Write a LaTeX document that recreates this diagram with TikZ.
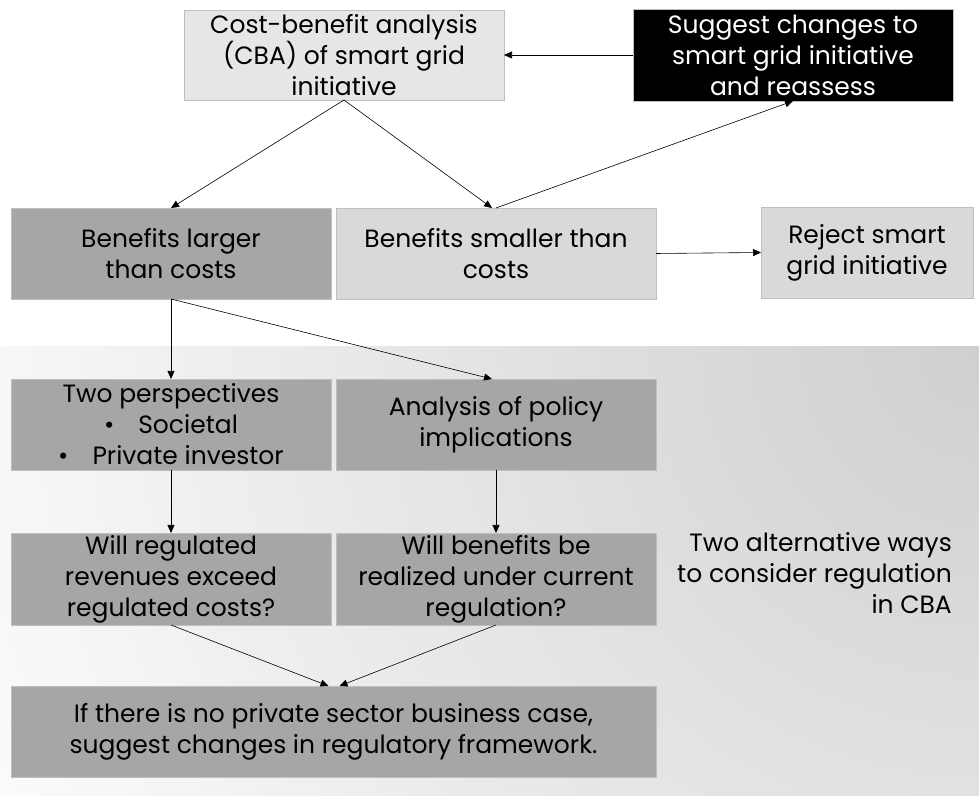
\documentclass[tikz,border=0pt]{standalone}
\usepackage{fontspec}
\setmainfont{Poppins}
\usetikzlibrary{arrows.meta}
\definecolor{cbafill}{HTML}{E6E6E6}
\definecolor{lightfill}{HTML}{D9D9D9}
\definecolor{darkfill}{HTML}{A6A6A6}
\definecolor{edgeline}{HTML}{BFBFBF}
\definecolor{shadegray}{HTML}{CFCFCF}
\tikzset{
 box/.style={draw=edgeline,line width=0.8pt,inner sep=0pt,outer sep=0pt,minimum width=320pt,minimum height=91pt,align=center,font=\fontsize{25}{31}\selectfont},
 lightbox/.style={box,fill=lightfill},
 darkbox/.style={box,fill=darkfill},
 blackbox/.style={box,fill=black,text=white},
 arr/.style={-{Triangle[length=8pt,width=7pt]},line width=0.6pt}
}
\begin{document}
\begin{tikzpicture}[x=1pt,y=1pt]
 \useasboundingbox (0,0) rectangle (979,795);
 \begin{scope}
 \clip (0,0) rectangle (979,448);
 \shade[inner color=shadegray,outer color=white] (979,448) circle (1175);
 \end{scope}
 \node[lightbox,fill=cbafill,minimum height=90pt] (cba) at (344,740) {Cost-benefit analysis\\(CBA) of smart grid\\initiative};
 \node[blackbox,minimum height=92pt] (suggest) at (793,740) {Suggest changes to\\smart grid initiative\\and reassess};
 \node[darkbox] (larger) at (171,541.5) {Benefits larger\\than costs};
 \node[lightbox] (smaller) at (496,541.5) {Benefits smaller than\\costs};
 \node[lightbox,minimum width=212pt] (reject) at (867,542.5) {Reject smart\\grid initiative};
 \node[darkbox] (persp) at (171,370.5) {Two perspectives\\\textbullet\hspace{24pt}Societal\\\textbullet\hspace{24pt}Private investor};
 \node[darkbox] (policy) at (496,370.5) {Analysis of policy\\implications};
 \node[darkbox,minimum height=92pt] (revenues) at (171,216) {Will regulated\\revenues exceed\\regulated costs?};
 \node[darkbox,minimum height=92pt] (realized) at (496,216) {Will benefits be\\realized under current\\regulation?};
 \node[darkbox,minimum width=645pt] (framework) at (333.5,63.5) {If there is no private sector business case,\\suggest changes in regulatory framework.};
 \node[align=right,anchor=east,inner sep=0pt,font=\fontsize{25}{31}\selectfont] (ways) at (952,222) {Two alternative ways\\to consider regulation\\in CBA};
 \draw[arr] (suggest.west) -- (cba.east);
 \draw[arr] (cba.south) -- (larger.north);
 \draw[arr] (cba.south) -- ([xshift=-4pt]smaller.north);
 \draw[arr] (smaller.north) -- (suggest.south);
 \draw[arr] (smaller.east) -- (reject.west);
 \draw[arr] (larger.south) -- (persp.north);
 \draw[arr] (larger.south) -- ([xshift=-4pt]policy.north);
 \draw[arr] (persp.south) -- (revenues.north);
 \draw[arr] (policy.south) -- (realized.north);
 \draw[arr] (revenues.south) -- ([xshift=-5pt]framework.north);
 \draw[arr] (realized.south) -- ([xshift=6pt]framework.north);
\end{tikzpicture}
\end{document}
